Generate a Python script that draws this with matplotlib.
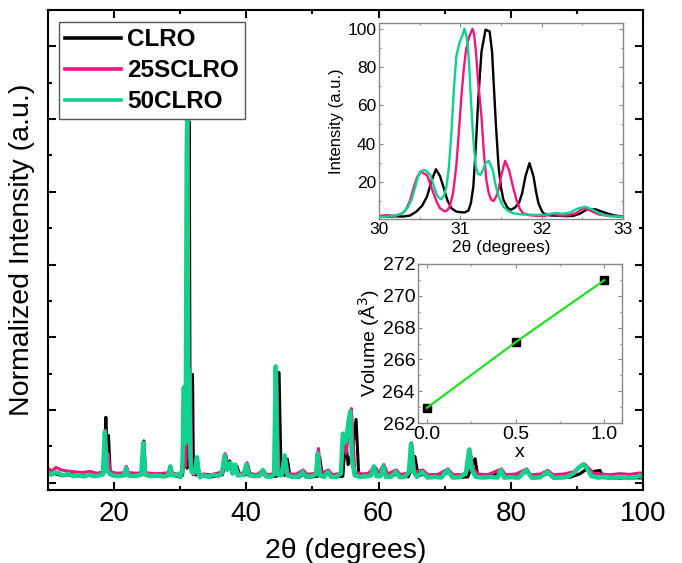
import numpy as np
import matplotlib
matplotlib.use("Agg")
import matplotlib.pyplot as plt
from matplotlib.ticker import MultipleLocator

plt.rcParams['font.family'] = ['Liberation Sans', 'DejaVu Sans']

# series labels / colours
labels = ['CLRO', '25SCLRO', '50CLRO']
colors = ['#000000', '#f5147f', '#12d08e']

# --- zoomed 30-33 deg region (inset, also used in main pattern) ---
clro_zoom = [(30.0, 1.9), (30.1, 1.8), (30.2, 2.0), (30.3, 1.9), (30.38, 2.4), (30.46, 4.5), (30.53, 7.5),
             (30.59, 12.3), (30.65, 21.0), (30.70, 26.6), (30.75, 23.0), (30.79, 17.6), (30.84, 10.5),
             (30.89, 6.2), (30.95, 4.5), (30.99, 4.2), (31.05, 4.0), (31.10, 5.0), (31.13, 9.0), (31.16, 17.6),
             (31.19, 38.0), (31.22, 62.9), (31.26, 88.0), (31.31, 99.5), (31.36, 98.6), (31.39, 88.0),
             (31.41, 71.6), (31.44, 48.0), (31.47, 28.0), (31.50, 17.0), (31.53, 10.6), (31.58, 6.5),
             (31.62, 5.4), (31.67, 6.5), (31.72, 8.9), (31.76, 14.0), (31.80, 22.8), (31.85, 29.8),
             (31.90, 22.8), (31.93, 15.0), (31.96, 8.9), (32.0, 5.0), (32.02, 3.6), (32.1, 2.5), (32.2, 2.3),
             (32.3, 2.1), (32.39, 2.2), (32.47, 3.4), (32.55, 5.4), (32.66, 5.7), (32.73, 4.6), (32.80, 3.6),
             (32.9, 2.4), (33.0, 1.9)]
sclro25_zoom = [(30.0, 2.2), (30.1, 2.6), (30.2, 2.3), (30.28, 3.3), (30.33, 5.4), (30.38, 10.0), (30.43, 17.6),
                (30.47, 22.5), (30.51, 25.4), (30.55, 24.5), (30.59, 23.5), (30.63, 19.0), (30.67, 14.0),
                (30.71, 9.5), (30.75, 6.2), (30.81, 4.5), (30.84, 5.2), (30.87, 7.1), (30.91, 14.0),
                (30.95, 28.0), (30.98, 45.0), (31.01, 62.9), (31.04, 78.0), (31.07, 89.0), (31.11, 96.0),
                (31.15, 100.0), (31.17, 97.0), (31.19, 89.0), (31.22, 72.0), (31.26, 54.0), (31.29, 35.0),
                (31.32, 21.0), (31.35, 14.0), (31.38, 10.6), (31.41, 10.0), (31.44, 12.3), (31.47, 16.0),
                (31.50, 22.8), (31.55, 31.0), (31.60, 26.0), (31.65, 17.0), (31.69, 10.6), (31.73, 6.0),
                (31.77, 3.6), (31.85, 2.6), (31.95, 2.2), (32.05, 2.3), (32.14, 3.2), (32.22, 2.4),
                (32.32, 2.5), (32.42, 3.6), (32.51, 6.2), (32.6, 5.0), (32.7, 3.0), (32.8, 2.4), (32.9, 2.2),
                (33.0, 2.0)]
clro50_zoom = [(30.0, 1.5), (30.1, 1.8), (30.2, 2.4), (30.29, 3.6), (30.35, 6.5), (30.40, 10.6), (30.44, 16.5),
               (30.48, 22.8), (30.52, 25.5), (30.56, 26.3), (30.60, 25.0), (30.63, 23.7), (30.67, 18.5),
               (30.71, 13.2), (30.74, 11.5), (30.77, 11.0), (30.80, 13.0), (30.83, 17.6), (30.86, 28.0),
               (30.89, 45.5), (30.92, 68.0), (30.95, 85.5), (30.98, 91.0), (31.0, 94.0), (31.03, 97.0),
               (31.05, 100.0), (31.07, 97.0), (31.09, 92.0), (31.11, 80.0), (31.13, 63.0), (31.16, 42.0),
               (31.19, 28.0), (31.22, 24.0), (31.25, 23.7), (31.28, 26.5), (31.31, 29.8), (31.35, 31.0),
               (31.40, 26.0), (31.43, 19.0), (31.46, 13.8), (31.50, 9.5), (31.53, 7.0), (31.58, 5.0),
               (31.65, 3.6), (31.75, 3.0), (31.85, 2.8), (31.95, 2.7), (32.05, 2.9), (32.12, 3.4),
               (32.18, 3.8), (32.25, 3.3), (32.35, 4.0), (32.45, 6.2), (32.54, 7.0), (32.63, 5.4),
               (32.70, 3.8), (32.75, 2.8), (32.85, 2.0), (32.95, 1.7), (33.0, 1.5)]

# --- full pattern, below 30 deg ---
clro_low = [(10.0, 2.2), (11.0, 2.5), (12.0, 2.0), (13.5, 2.2), (15.0, 1.8), (16.5, 2.1), (18.0, 2.0),
            (18.45, 2.5), (18.75, 18.0), (18.95, 8.0), (19.15, 13.0), (19.4, 3.0), (20.0, 2.0), (21.6, 2.0),
            (21.9, 4.0), (22.2, 2.0), (23.5, 1.9), (24.25, 2.2), (24.5, 11.5), (24.75, 2.2), (26.0, 2.0),
            (27.5, 1.8), (28.35, 2.0), (28.6, 4.0), (28.85, 2.0), (29.5, 1.8), (29.9, 1.8)]
sclro25_low = [(10.0, 4.0), (10.6, 3.2), (11.2, 4.2), (12.0, 3.5), (13.0, 3.2), (14.0, 3.0), (15.2, 2.8),
               (16.4, 3.1), (17.4, 2.6), (18.35, 3.0), (18.65, 14.5), (18.9, 4.0), (19.1, 8.0), (19.4, 3.0),
               (20.5, 2.6), (21.55, 2.8), (21.85, 4.5), (22.15, 2.8), (23.4, 2.6), (24.15, 2.8), (24.45, 11.0),
               (24.75, 2.8), (26.0, 2.5), (27.4, 2.6), (28.25, 2.8), (28.55, 4.5), (28.85, 2.6), (29.6, 2.4),
               (29.9, 2.5)]
clro50_low = [(10.0, 2.8), (10.5, 2.2), (11.0, 2.9), (11.6, 2.6), (12.2, 2.0), (13.0, 2.4), (13.8, 1.8),
              (14.6, 2.1), (15.4, 1.7), (16.2, 2.2), (17.0, 1.8), (17.8, 2.0), (18.3, 2.3), (18.6, 14.0),
              (18.9, 3.5), (19.3, 2.5), (19.8, 2.0), (20.6, 1.8), (21.5, 2.0), (21.8, 4.0), (22.1, 2.0),
              (23.0, 1.8), (24.1, 2.2), (24.4, 11.0), (24.7, 2.2), (25.5, 1.8), (26.5, 2.0), (27.5, 1.7),
              (28.2, 2.0), (28.5, 4.5), (28.8, 2.0), (29.4, 2.1), (29.9, 2.5)]

# --- full pattern, above 33 deg ---
clro_high = [(33.5, 1.8), (34.5, 1.6), (35.5, 1.8), (36.4, 2.2), (36.9, 7.5), (37.2, 4.0), (37.5, 6.0),
             (37.9, 2.5), (38.6, 4.5), (39.0, 2.0), (39.9, 2.2), (40.2, 5.0), (40.6, 2.0), (42.0, 1.8),
             (42.7, 3.0), (43.2, 1.6), (44.6, 1.8), (44.95, 30.3), (45.25, 2.5), (45.9, 2.0), (46.2, 6.5),
             (46.6, 1.8), (48.0, 1.5), (48.8, 2.8), (49.4, 1.5), (50.8, 1.8), (51.1, 7.0), (51.5, 1.8),
             (52.6, 2.6), (53.2, 1.5), (54.6, 1.8), (55.0, 12.0), (55.4, 5.0), (56.0, 8.0), (56.6, 17.4),
             (57.0, 2.0), (58.0, 1.6), (59.6, 4.0), (60.0, 1.8), (61.0, 4.0), (61.5, 1.6), (63.0, 2.5),
             (64.5, 1.6), (65.2, 5.0), (65.5, 7.2), (66.0, 1.8), (67.0, 2.6), (68.0, 1.4), (70.6, 2.8),
             (71.5, 1.4), (73.5, 1.6), (74.0, 4.0), (74.6, 6.6), (75.0, 1.8), (76.5, 1.4), (78.8, 3.0),
             (79.5, 1.4), (82.6, 3.0), (83.3, 1.4), (85.8, 2.6), (86.5, 1.3), (89.0, 1.5), (90.5, 2.5),
             (91.5, 3.8), (92.2, 3.0), (93.5, 3.4), (94.0, 1.4), (96.0, 1.2), (98.0, 1.4), (100.0, 1.3)]
sclro25_high = [(33.5, 2.4), (34.6, 2.2), (35.6, 2.6), (36.3, 3.0), (36.8, 8.0), (37.2, 4.5), (37.7, 5.5),
                (38.0, 3.0), (38.4, 5.0), (38.8, 2.5), (39.7, 2.8), (40.1, 5.5), (40.5, 2.6), (41.5, 2.2),
                (42.6, 3.5), (43.1, 2.2), (44.3, 2.5), (44.6, 31.0), (44.9, 3.0), (45.6, 2.6), (45.9, 7.0),
                (46.3, 2.5), (47.5, 2.3), (48.6, 3.5), (49.2, 2.3), (50.5, 2.6), (50.9, 9.4), (51.3, 2.6),
                (52.4, 3.5), (53.0, 2.2), (54.3, 2.6), (54.7, 12.0), (55.1, 8.0), (55.9, 20.4), (56.4, 3.0),
                (57.5, 2.4), (58.5, 2.6), (59.4, 4.5), (59.9, 2.4), (60.8, 5.0), (61.3, 2.4), (62.7, 3.5),
                (63.3, 2.2), (64.6, 2.8), (65.0, 11.0), (65.5, 3.0), (66.7, 3.5), (67.5, 2.2), (69.0, 2.3),
                (70.5, 3.8), (71.3, 2.2), (72.8, 2.3), (73.3, 3.0), (73.8, 9.3), (74.3, 4.0), (75.0, 2.4),
                (76.5, 2.2), (78.6, 3.8), (79.2, 2.2), (80.8, 2.4), (82.4, 3.8), (83.0, 2.2), (84.5, 2.4),
                (85.6, 3.4), (86.4, 2.2), (88.0, 2.4), (89.5, 3.0), (90.4, 4.4), (91.1, 5.2), (91.8, 4.0),
                (92.5, 2.6), (93.6, 2.4), (95.0, 2.2), (96.5, 2.5), (98.0, 2.3), (99.6, 2.7), (100.0, 2.4)]
clro50_high = [(33.1, 1.6), (33.5, 2.0), (34.3, 1.6), (35.0, 2.2), (35.7, 1.8), (36.3, 2.6), (36.7, 7.5),
               (37.1, 3.5), (37.6, 5.5), (37.9, 2.5), (38.3, 5.0), (38.7, 2.0), (39.6, 2.2), (40.0, 5.0),
               (40.4, 2.0), (41.3, 1.8), (42.0, 2.0), (42.5, 3.5), (42.9, 1.8), (43.6, 1.6), (44.2, 2.2),
               (44.45, 32.0), (44.7, 2.4), (45.3, 2.0), (45.8, 7.5), (46.2, 2.0), (47.0, 1.6), (48.0, 1.8),
               (48.5, 3.0), (49.0, 1.6), (50.0, 1.8), (50.55, 2.4), (50.8, 8.0), (51.1, 2.0), (51.8, 1.6),
               (52.3, 3.0), (52.8, 1.6), (53.6, 1.6), (54.3, 2.5), (54.6, 13.5), (54.9, 11.0), (55.1, 11.5),
               (55.4, 16.0), (55.7, 19.6), (56.0, 6.0), (56.4, 2.0), (57.2, 1.6), (58.2, 1.8), (58.9, 2.0),
               (59.3, 4.5), (59.7, 1.8), (60.3, 1.8), (60.7, 4.5), (61.1, 1.6), (61.9, 1.6), (62.6, 3.0),
               (63.2, 1.5), (64.0, 1.6), (64.6, 3.0), (64.9, 10.7), (65.3, 3.0), (65.8, 1.6), (66.6, 3.0),
               (67.4, 1.4), (68.5, 1.6), (69.5, 1.4), (70.4, 3.5), (71.2, 1.4), (72.2, 1.5), (73.2, 2.5),
               (73.7, 9.1), (74.1, 3.5), (74.7, 1.6), (75.8, 1.4), (77.0, 1.6), (78.0, 1.4), (78.5, 3.5),
               (79.0, 1.4), (80.0, 1.5), (81.2, 1.4), (82.3, 3.5), (83.2, 1.3), (84.5, 1.5), (85.5, 3.0),
               (86.5, 1.3), (87.6, 1.4), (88.6, 1.6), (89.5, 2.6), (90.3, 4.2), (90.9, 5.0), (91.5, 4.0),
               (92.2, 1.8), (93.2, 1.4), (94.3, 1.6), (95.5, 1.3), (96.6, 1.5), (97.7, 1.3), (98.8, 1.4),
               (99.5, 2.0), (100.0, 1.5)]

# --- cell volume vs x ---
x_comp = [0.0, 0.5, 1.0]
volume = [262.95, 267.08, 270.98]

zoom_sets = [clro_zoom, sclro25_zoom, clro50_zoom]
full_sets = [clro_low + clro_zoom + clro_high,
             sclro25_low + sclro25_zoom + sclro25_high,
             clro50_low + clro50_zoom + clro50_high]
main_lw = [2.2, 2.2, 3.2]

fig = plt.figure(figsize=(6.82, 5.63), dpi=100)
ax = fig.add_axes([48/682, 1-490/563, 595/682, 480/563])

for pts, lab, c, lw in zip(full_sets, labels, colors, main_lw):
    xs, ys = zip(*pts)
    ax.plot(xs, ys, color=c, lw=lw, label=lab)

ax.set_xlim(10, 100)
ax.set_ylim(-2, 130)
ax.xaxis.set_major_locator(MultipleLocator(20))
ax.xaxis.set_minor_locator(MultipleLocator(10))
ax.yaxis.set_major_locator(MultipleLocator(20))
ax.yaxis.set_minor_locator(MultipleLocator(10))
ax.tick_params(which='both', direction='in', top=True, right=True, width=1.5)
ax.tick_params(which='major', length=6, labelsize=20, pad=8)
ax.tick_params(which='minor', length=3)
ax.tick_params(axis='y', labelleft=False)
for s in ax.spines.values():
    s.set_linewidth(1.5)
ax.set_xlabel('2θ (degrees)', fontsize=20.5, labelpad=8)
ax.set_ylabel('Normalized Intensity (a.u.)', fontsize=20.5, labelpad=6)

leg = ax.legend(loc='upper left', bbox_to_anchor=(11/595, 1-12/480), borderaxespad=0,
                prop={'weight': 'bold', 'size': 17.5}, handlelength=2.3, handletextpad=0.25,
                labelspacing=0.33, borderpad=0.25, fancybox=False, framealpha=1, edgecolor='#555555')
leg.get_frame().set_linewidth(1.0)
for h in leg.get_lines():
    h.set_linewidth(2.6)

# inset 1: zoom of main reflection
ins1 = fig.add_axes([379/682, 1-219/563, 244/682, 196/563])
for pts, c in zip(zoom_sets, colors):
    xs, ys = zip(*pts)
    ins1.plot(xs, ys, color=c, lw=1.7)
ins1.set_xlim(30, 33)
ins1.set_ylim(0.6, 103)
ins1.xaxis.set_major_locator(MultipleLocator(1))
ins1.xaxis.set_minor_locator(MultipleLocator(0.5))
ins1.set_yticks([20, 40, 60, 80, 100])
ins1.yaxis.set_minor_locator(MultipleLocator(10))
ins1.tick_params(which='both', direction='in', top=True, right=True, color='#888888', width=0.8)
ins1.tick_params(which='major', length=3, labelsize=12.5, pad=2)
ins1.tick_params(which='minor', length=1.5)
for s in ins1.spines.values():
    s.set_color('#888888')
    s.set_linewidth(1.0)
ins1.set_xlabel('2θ (degrees)', fontsize=12.5, labelpad=2)
ins1.set_ylabel('Intensity (a.u.)', fontsize=12, labelpad=2)

# inset 2: cell volume
ins2 = fig.add_axes([418/682, 1-423/563, 204/682, 159/563])
ins2.plot(x_comp, volume, 's', color='black', ms=5.5, zorder=2)
ins2.plot(x_comp, volume, '-', color='#1ee31e', lw=1.6, zorder=3)
ins2.set_xlim(-0.05, 1.1)
ins2.set_ylim(262, 272)
ins2.xaxis.set_major_locator(MultipleLocator(0.5))
ins2.xaxis.set_minor_locator(MultipleLocator(0.25))
ins2.yaxis.set_major_locator(MultipleLocator(2))
ins2.yaxis.set_minor_locator(MultipleLocator(1))
ins2.xaxis.set_major_formatter(matplotlib.ticker.FormatStrFormatter('%.1f'))
ins2.tick_params(which='both', direction='in', top=True, right=True, color='#888888', width=0.8)
ins2.tick_params(which='major', length=3, labelsize=14, pad=2)
ins2.tick_params(which='minor', length=1.5)
for s in ins2.spines.values():
    s.set_color('#888888')
    s.set_linewidth(1.0)
ins2.set_xlabel('x', fontsize=14, labelpad=1)
ins2.set_ylabel('Volume (Å$^3$)', fontsize=14, labelpad=0)

fig.savefig('out.png', dpi=100)
